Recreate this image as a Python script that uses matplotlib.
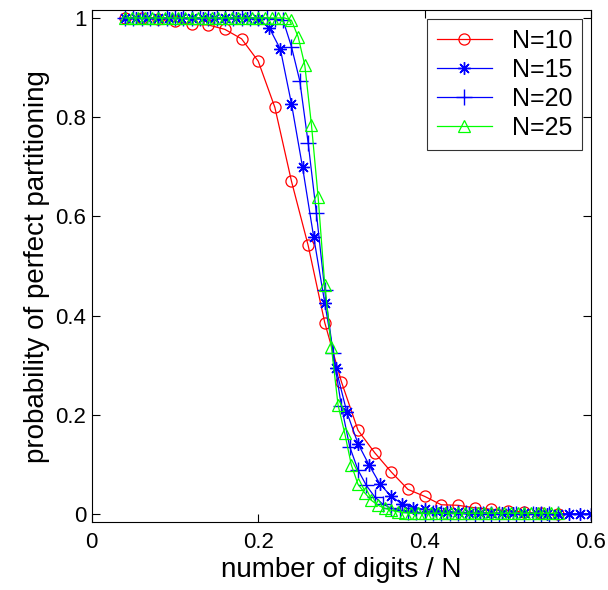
import numpy as np
import matplotlib
matplotlib.use("Agg")
import matplotlib.pyplot as plt

plt.rcParams['font.family'] = ['Liberation Sans', 'DejaVu Sans']

# ---- data ----
x10 = [0.04, 0.06, 0.08, 0.10, 0.12, 0.14, 0.16, 0.18, 0.20, 0.22, 0.24, 0.26, 0.28,
       0.30, 0.32, 0.34, 0.36, 0.38, 0.40, 0.42, 0.44, 0.46, 0.48, 0.50, 0.52, 0.54, 0.56]
y10 = [1.0, 1.0, 0.998, 0.993, 0.987, 0.986, 0.977, 0.958, 0.913, 0.82, 0.671, 0.542, 0.386,
       0.267, 0.169, 0.124, 0.085, 0.05, 0.036, 0.019, 0.018, 0.013, 0.01, 0.007, 0.004, 0.002, 0.001]

x15 = [k / 75 for k in range(3, 46)]
y15 = [1.0] * 12 + [0.997, 0.98, 0.937, 0.827, 0.699, 0.559, 0.426, 0.294, 0.205, 0.142,
                    0.099, 0.06, 0.036, 0.02, 0.013, 0.01, 0.007, 0.005, 0.004, 0.003, 0.003,
                    0.002, 0.002, 0.002, 0.002, 0.002, 0.001, 0.001, 0.001, 0.001, 0.001]
y15 = y15[:len(x15)]

x20 = [k / 100 for k in range(4, 57)]
y20 = [1.0] * 18 + [0.998, 0.995, 0.942, 0.873, 0.749, 0.606, 0.452, 0.324, 0.218, 0.136,
                    0.089, 0.058, 0.035, 0.02, 0.012, 0.008, 0.005, 0.004, 0.003, 0.003,
                    0.002, 0.002, 0.002, 0.002, 0.001, 0.001, 0.001, 0.001, 0.001, 0.001,
                    0.001, 0.001, 0.001, 0.001, 0.001]
y20 = y20[:len(x20)]

x25 = [k / 125 for k in range(5, 71)]
y25 = [1.0] * 25 + [0.995, 0.962, 0.905, 0.785, 0.64, 0.462, 0.337, 0.22, 0.163, 0.099,
                    0.06, 0.043, 0.028, 0.018, 0.012, 0.008, 0.005, 0.003]
y25 = y25 + [0.002] * (len(x25) - len(y25))

labels = ['N=10', 'N=15', 'N=20', 'N=25']
xticks = [0, 0.2, 0.4, 0.6]
yticks = [0, 0.2, 0.4, 0.6, 0.8, 1]

fig = plt.figure(figsize=(6.08, 5.90), dpi=100)
ax = fig.add_axes([0.151, 0.115, 0.821, 0.868])

ast = (8, 2, 0)
ax.plot(x10, y10, color='#ff0000', lw=0.9, marker='o', ms=8, mfc='none', mec='#ff0000', mew=0.9, label=labels[0])
ax.plot(x15, y15, color='#0000ff', lw=0.9, marker=ast, ms=9, mec='#0000ff', mew=1.0, label=labels[1])
ax.plot(x20, y20, color='#0000ff', lw=0.9, marker='+', ms=11, mec='#0000ff', mew=1.0, label=labels[2])
ax.plot(x25, y25, color='#00ff00', lw=0.9, marker='^', ms=8, mfc='none', mec='#00ff00', mew=0.9, label=labels[3])

ax.set_xlim(0, 0.6)
ax.set_ylim(-0.016, 1.016)
ax.set_xticks(xticks)
ax.set_xticklabels(['0', '0.2', '0.4', '0.6'])
ax.set_yticks(yticks)
ax.set_yticklabels(['0', '0.2', '0.4', '0.6', '0.8', '1'])
ax.tick_params(direction='in', length=6, width=0.8, top=True, right=True, labelsize=16)
ax.tick_params(axis='x', pad=7)
ax.tick_params(axis='y', pad=4)
for s in ax.spines.values():
    s.set_linewidth(0.8)

ax.set_xlabel('number of digits / N', fontsize=20, labelpad=3)
ax.set_ylabel('probability of perfect partitioning', fontsize=20, labelpad=4)

leg = ax.legend(loc='upper right', fontsize=18, frameon=True, fancybox=False,
                edgecolor='black', handlelength=2.2, borderaxespad=0.35,
                labelspacing=0.2, handletextpad=0.8, borderpad=0.4)
leg.get_frame().set_linewidth(0.8)

fig.savefig('out.png', dpi=100)
